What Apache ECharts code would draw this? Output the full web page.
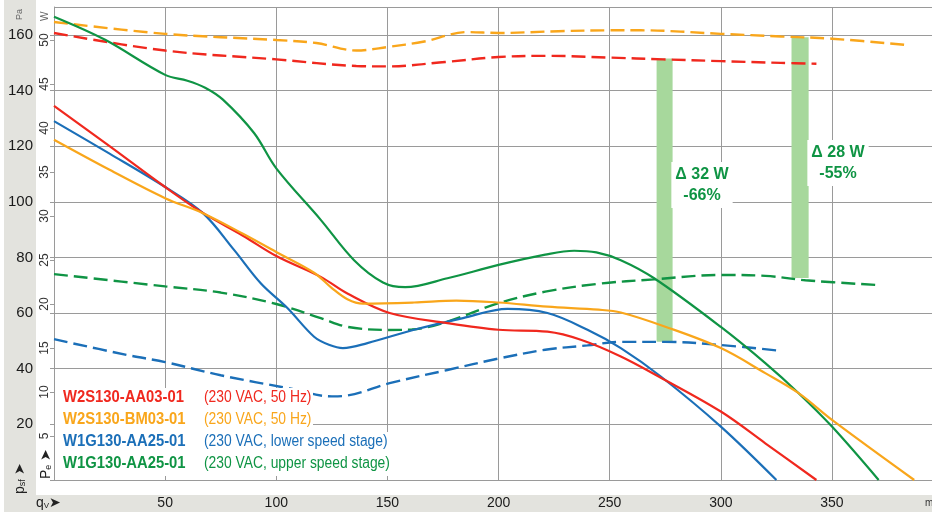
<!DOCTYPE html>
<html>
<head>
<meta charset="utf-8">
<script src="https://cdn.jsdelivr.net/npm/echarts@6/dist/echarts.min.js"></script>
<style>
html,body{margin:0;padding:0;background:#fff;}
#c{width:932px;height:512px;}
</style>
</head>
<body>
<div id="c"></div>
<script>
// ---- data (qv in m³/h, pressure in Pa, power in W) ----
const xTicks = [50, 100, 150, 200, 250, 300, 350];

const redPQ   = [0, 25, 50, 67, 85, 100, 120, 132, 151, 177, 200, 222, 237, 255, 272, 300, 320, 343];
const redP    = [134.5, 120, 105.3, 96, 87.8, 80.5, 73, 67, 60, 56.4, 54, 53.3, 50.4, 44.4, 37.2, 24.6, 13.2, 0];

const orangePQ = [0, 25, 50, 67, 85, 101, 117, 125, 132, 139, 162, 181, 200, 222, 245, 255, 275, 300, 320, 335, 350, 387];
const orangeP  = [122.3, 111.5, 101.3, 95.9, 88.5, 81.5, 74.5, 69, 65, 63.4, 63.8, 64.5, 63.8, 62.3, 61.2, 60.2, 55.1, 47.4, 38.4, 31.2, 21.6, 0];

const bluePQ = [0, 25, 50, 67, 81, 93, 105, 117, 124, 130, 141, 162, 184, 204, 222, 240, 255, 273, 300, 325];
const blueP  = [129, 117.3, 105.3, 95.9, 82.7, 70.7, 61.8, 51.5, 48.5, 47.4, 49.2, 54, 58.2, 61.5, 60, 54, 47.4, 37.2, 19.2, 0];

const greenPQ = [0, 23, 50, 60, 68, 76, 90, 100, 120, 135, 148, 158, 177, 200, 221, 234, 244, 255, 270, 300, 320, 335, 350, 371];
const greenP  = [166.5, 158.2, 145.6, 143.5, 141, 136.7, 124.7, 112, 93.5, 79, 71, 69.3, 72.5, 77.3, 81, 82.4, 81.8, 79, 72.5, 55, 42, 31.2, 19.2, 0];

const redWQ = [0, 50, 100, 136, 150, 176, 200, 222, 250, 274, 300, 327, 343];
const redW  = [50.8, 48.8, 47.8, 47.05, 47.0, 47.5, 48.07, 48.2, 48.0, 47.8, 47.6, 47.4, 47.3];

const orangeWQ = [0, 50, 100, 118, 136, 150, 166, 186, 200, 227, 250, 264, 300, 327, 350, 385];
const orangeW  = [52.05, 50.7, 50.0, 49.66, 48.8, 49.2, 49.8, 50.9, 50.8, 51.0, 51.1, 51.1, 50.7, 50.4, 50.15, 49.4];

const greenWQ = [0, 50, 75, 100, 120, 132, 150, 161, 177, 200, 221, 245, 270, 300, 320, 338, 370];
const greenW  = [23.4, 22.0, 21.3, 20.0, 18.4, 17.4, 17.05, 17.1, 18.0, 20.1, 21.4, 22.3, 22.8, 23.3, 23.2, 22.7, 22.16];

const blueWQ = [0, 33, 50, 75, 106, 125, 132, 151, 177, 200, 221, 240, 255, 275, 300, 326];
const blueW  = [16.0, 14.2, 13.4, 11.9, 10.4, 9.5, 9.6, 11.0, 12.5, 13.8, 14.8, 15.3, 15.7, 15.7, 15.34, 14.7];

// delta bars: [qv from, qv to, W low, W high]
const deltaBars = [[271.1, 278.3, 15.7, 47.9], [331.8, 339.5, 22.95, 50.3]];
const deltaLabels = ['Δ 32 W\n-66%', 'Δ 28 W\n-55%'];

const legendNames = ['W2S130-AA03-01', 'W2S130-BM03-01', 'W1G130-AA25-01', 'W1G130-AA25-01'];
const legendNotes = ['(230 VAC, 50 Hz)', '(230 VAC, 50 Hz)', '(230 VAC, lower speed stage)', '(230 VAC, upper speed stage)'];

// ---- styles ----
const C = { red: '#f0281e', orange: '#f9a61b', blue: '#1b6fb8', green: '#0f9444', bar: '#a7d89c' };
const colors = [C.red, C.orange, C.blue, C.green];
const NARROW = '"Liberation Sans Narrow", "Arial Narrow", "Liberation Sans", Arial, sans-serif';
const SANS = '"Liberation Sans", Arial, sans-serif';
const GRID = '#9a9a9a';

const pair = (q, v) => q.map((x, i) => [x, v[i]]);

function solid(name, q, v, color, z) {
  return { name, type: 'line', yAxisIndex: 0, data: pair(q, v), smooth: 0.35, symbol: 'none', z,
    lineStyle: { color, width: 2.2 } };
}
function dashed(name, q, v, color, z) {
  return { name, type: 'line', yAxisIndex: 1, data: pair(q, v), smooth: 0.35, symbol: 'none', z,
    lineStyle: { color, width: 2.4, type: [14, 6] } };
}

const graphic = [
  { type: 'rect', z: -5, shape: { x: 4, y: 0, width: 32, height: 512 }, style: { fill: '#e3e3de' } },
  { type: 'rect', z: -5, shape: { x: 4, y: 495, width: 928, height: 17 }, style: { fill: '#e3e3de' } },
  { type: 'line', shape: { x1: 54, y1: 7.5, x2: 932, y2: 7.5 }, style: { stroke: GRID, lineWidth: 1 } },
  // white panel behind the legend block
  { type: 'rect', z: 9, shape: { x: 55, y: 388, width: 258, height: 44 }, style: { fill: '#fff' } },
  { type: 'rect', z: 9, shape: { x: 55, y: 432, width: 339, height: 44 }, style: { fill: '#fff' } },
  { type: 'text', x: 20, y: 20, rotation: Math.PI / 2, style: { text: 'Pa', font: '9px ' + SANS, fill: '#666', align: 'left', verticalAlign: 'middle' } },
  { type: 'text', x: 45, y: 21, rotation: Math.PI / 2, style: { text: 'W', font: '10px ' + SANS, fill: '#666', align: 'left', verticalAlign: 'middle' } },
  { type: 'text', x: 20, y: 494, rotation: Math.PI / 2, style: {
      text: '{b|p}{s|sf}{b| ➤}', align: 'left', verticalAlign: 'middle',
      rich: { b: { font: '14px ' + NARROW, fill: '#222' }, s: { font: '9px ' + NARROW, fill: '#222', padding: [6, 0, 0, 0] } } } },
  { type: 'text', x: 46, y: 479, rotation: Math.PI / 2, style: {
      text: '{b|P}{s|e}{b| ➤}', align: 'left', verticalAlign: 'middle',
      rich: { b: { font: '14px ' + NARROW, fill: '#222' }, s: { font: '9px ' + NARROW, fill: '#222', padding: [6, 0, 0, 0] } } } },
  { type: 'text', x: 36, y: 503, style: {
      text: '{b|q}{s|V}{b|➤}', align: 'left', verticalAlign: 'middle',
      rich: { b: { font: '14px ' + NARROW, fill: '#222' }, s: { font: '8px ' + NARROW, fill: '#222', padding: [6, 0, 0, 0] } } } },
  { type: 'text', x: 925, y: 503, style: { text: 'm', font: '10px ' + NARROW, fill: '#333', align: 'left', verticalAlign: 'middle' } }
];

const legendY = [398, 420, 442, 464];
legendNames.forEach((n, i) => {
  graphic.push({ type: 'text', x: 63, y: legendY[i], scaleX: 0.925, z: 10, style: {
    text: n, font: 'bold 16px ' + SANS, fill: colors[i], align: 'left', verticalAlign: 'middle' } });
  graphic.push({ type: 'text', x: 204, y: legendY[i], scaleX: 0.865, z: 10, style: {
    text: legendNotes[i], font: '16px ' + SANS, fill: colors[i], align: 'left', verticalAlign: 'middle' } });
});

const annotPos = [[702, 162], [838, 140]];
deltaLabels.forEach((t, i) => {
  graphic.push({ type: 'text', x: annotPos[i][0], y: annotPos[i][1], z: 10, style: {
    text: t, font: 'bold 16px ' + SANS, fill: C.green, align: 'center', verticalAlign: 'top',
    lineHeight: 21, backgroundColor: '#fff', padding: [2, 4, 2, 4] } });
});

const chart = echarts.init(document.getElementById('c'), null, { renderer: 'canvas' });
chart.setOption({
  animation: false,
  backgroundColor: '#fff',
  grid: { left: 54, right: 0, top: 7, bottom: 32, containLabel: false, outerBoundsMode: 'none' },
  xAxis: {
    type: 'value', min: 0, max: 395, interval: 50,
    axisLine: { show: true, lineStyle: { color: GRID, width: 1 } },
    axisTick: { show: false },
    splitLine: { show: true, lineStyle: { color: GRID, width: 1 } },
    axisLabel: { margin: 16, fontSize: 14, fontFamily: NARROW, color: '#1a1a1a', showMaxLabel: false,
      formatter: v => xTicks.includes(v) ? String(v) : '' }
  },
  yAxis: [
    { type: 'value', min: 0, max: 170, interval: 20, position: 'left',
      axisLine: { show: false },
      axisTick: { show: true, length: 4, lineStyle: { color: GRID } },
      splitLine: { show: true, lineStyle: { color: GRID, width: 1 } },
      axisLabel: { margin: 21, fontSize: 15, fontFamily: NARROW, color: '#1a1a1a', showMaxLabel: false,
        formatter: v => (v === 0 || v % 20 !== 0) ? '' : String(v) } },
    { type: 'value', min: 0, max: 53.75, interval: 5, position: 'left', offset: 0,
      axisLine: { show: true, lineStyle: { color: GRID, width: 1 } },
      axisTick: { show: true, length: 4, lineStyle: { color: GRID } },
      splitLine: { show: false },
      axisLabel: { rotate: 90, margin: 3, fontSize: 12, fontFamily: NARROW, color: '#333', showMaxLabel: false,
        formatter: v => (v === 0 || v % 5 !== 0) ? '' : String(v) } }
  ],
  series: [
    { type: 'custom', yAxisIndex: 1, z: 1, data: deltaBars,
      renderItem: (params, api) => {
        const p0 = api.coord([api.value(0), api.value(3)]);
        const p1 = api.coord([api.value(1), api.value(2)]);
        return { type: 'rect', shape: { x: p0[0], y: p0[1], width: p1[0] - p0[0], height: p1[1] - p0[1] },
          style: { fill: C.bar } };
      } },
    dashed('W1G130-AA25-01 lower P', blueWQ, blueW, C.blue, 3),
    dashed('W1G130-AA25-01 upper P', greenWQ, greenW, C.green, 3),
    dashed('W2S130-AA03-01 P', redWQ, redW, C.red, 3),
    dashed('W2S130-BM03-01 P', orangeWQ, orangeW, C.orange, 4),
    solid('W1G130-AA25-01 upper', greenPQ, greenP, C.green, 4),
    solid('W1G130-AA25-01 lower', bluePQ, blueP, C.blue, 4),
    solid('W2S130-AA03-01', redPQ, redP, C.red, 5),
    solid('W2S130-BM03-01', orangePQ, orangeP, C.orange, 6)
  ],
  graphic
});
</script>
</body>
</html>
